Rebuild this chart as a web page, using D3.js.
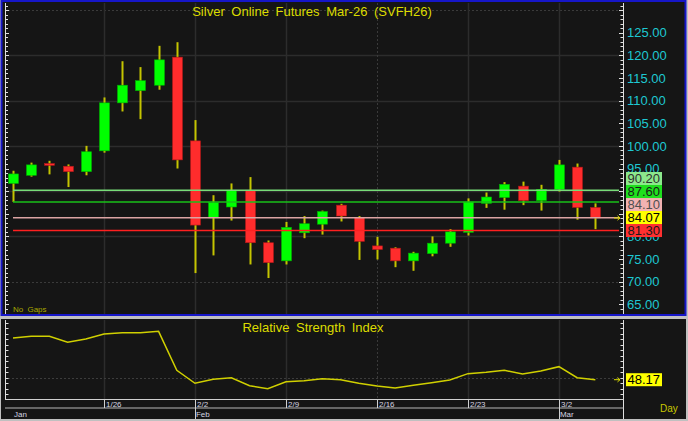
<!DOCTYPE html>
<html><head><meta charset="utf-8">
<script src="https://cdn.jsdelivr.net/npm/d3@7"></script>
<style>
html,body{margin:0;padding:0;background:#c0c0c0;}
svg{display:block;font-family:"Liberation Sans",Arial,sans-serif;}
</style></head>
<body>
<svg id="chart" width="688" height="421"></svg>
<script>
// ---------- DATA ----------
const dates = ["1/19","1/20","1/21","1/22","1/23","1/26","1/27","1/28","1/29","1/30",
  "2/2","2/3","2/4","2/5","2/6","2/9","2/10","2/11","2/12","2/13",
  "2/16","2/17","2/18","2/19","2/20","2/23","2/24","2/25","2/26","2/27",
  "3/2","3/3","3/4"];
const openVals  = [91.7,93.5,96.1,95.5,94.3,98.9,109.5,112.2,113.4,119.6,
  101.1,84.1,86.5,90.2,78.6,74.6,80.8,82.7,86.9,84.2,
  77.9,77.4,74.6,76.2,78.5,80.9,87.3,88.6,91.1,87.9,
  90.4,95.3,86.4];
const highVals  = [94.5,96.3,96.7,95.9,100.0,110.7,118.7,117.4,122.1,122.9,
  105.7,89.1,91.7,93.1,79.1,83.2,84.5,85.7,87.2,84.5,
  79.9,77.6,76.6,80.0,81.6,88.4,89.7,92.0,92.1,91.4,
  96.9,96.1,87.3];
const lowVals   = [87.6,93.2,93.7,90.9,93.5,98.5,107.6,105.9,112.4,95.0,
  71.9,75.8,83.5,73.8,70.8,73.8,79.6,80.4,83.3,74.8,
  74.9,73.2,72.4,75.6,77.7,80.2,86.3,85.9,86.9,85.7,
  89.9,83.7,81.6];
const closeVals = [93.8,95.8,95.7,94.3,98.7,109.5,113.4,114.4,119.0,96.9,
  82.5,87.5,90.2,78.6,74.2,82.0,82.8,85.5,84.5,78.9,
  77.1,74.6,76.3,78.5,81.0,87.6,88.7,91.5,87.9,90.4,
  95.8,86.4,84.07];
const rsiVals = [86.3,87.8,87.8,82.4,85.4,89.9,91.1,91.1,92.4,56.8,
  44.9,48.5,50.0,42.7,39.9,46.3,47.3,49.1,48.2,44.9,
  42.4,40.6,43.1,45.4,47.9,53.7,54.9,56.8,53.4,56.1,
  60.1,50.0,48.17];
const priceTicks = [65,70,75,80,85,90,95,100,105,110,115,120,125];
const weekTicks = ["1/26","2/2","2/9","2/16","2/23","3/2"];
const monthStarts = ["1/19","2/2","3/2"];
const monthNames = ["Jan","Feb","Mar"];
const levelValues = [90.20, 87.60, 84.10, 81.30];
const lastPrice = 84.07;
const lastRsi = 48.17;
const titleText = "Silver Online Futures Mar-26 (SVFH26)";
const rsiTitle = "Relative Strength Index";

// ---------- STYLES ----------
const levelLine = ["#78dc78","#18c018","#dca4a4","#ff2020"];
const levelBox  = ["#8ce88c","#1ee01e","#f2b2b2","#ff3030"];
const levelText = ["#303030","#1a1a1a","#505050","#1a1a1a"];
const BG = "#151515", GRID = "#2c2c2c", AXIS = "#e0e0e0", YEL = "#dcdc00", CYAN = "#1ec8d2";

const svg = d3.select("#chart");
const n = dates.length;
const idx = d3.range(n);

// scales
const x = d3.scaleLinear().domain([-0.275, 33.52]).range([8, 623]);
const y = d3.scaleLinear().domain([65, 125]).range([304.3, 32.7]);
const yr = d3.scaleLinear().domain([50, 100]).range([377.7, 323.0]);
const di = d => dates.indexOf(d);

// outer + panels
svg.append("rect").attr("x",0).attr("y",0).attr("width",688).attr("height",421).attr("fill","#c0c0c0");
svg.append("rect").attr("x",1.5).attr("y",1).attr("width",684).attr("height",314)
  .attr("fill",BG).attr("stroke","#1616c8").attr("stroke-width",2);
svg.append("rect").attr("x",1).attr("y",319).attr("width",685).attr("height",100).attr("fill",BG);

// ---------- MAIN PANEL ----------
const main = svg.append("g");
[70,80,90,100,110,120,130].forEach(v=>{
  const dotted = (v===70||v===130);
  main.append("line").attr("x1",8).attr("x2",623).attr("y1",Math.round(y(v))+0.5).attr("y2",Math.round(y(v))+0.5)
    .attr("stroke", dotted?"#3a3a3a":GRID).attr("stroke-width",dotted?1:1.5)
    .attr("stroke-dasharray", dotted?"2,2":null);
});
weekTicks.forEach(d=>{
  const xx = Math.round(x(di(d)))+0.5;
  const dotted = d==="2/16";
  main.append("line").attr("x1",xx).attr("x2",xx).attr("y1",3).attr("y2",314)
    .attr("stroke", dotted?"#3a3a3a":GRID).attr("stroke-width",dotted?1:1.5)
    .attr("stroke-dasharray", dotted?"2,2":null);
});

main.append("text").attr("x",312).attr("y",16).attr("text-anchor","middle")
  .attr("font-size",13).attr("word-spacing",3).attr("fill",YEL).text(titleText);

main.append("line").attr("x1",5.5).attr("x2",5.5).attr("y1",3).attr("y2",314).attr("stroke",AXIS);
main.append("line").attr("x1",623.5).attr("x2",623.5).attr("y1",3).attr("y2",314).attr("stroke",AXIS);
d3.range(63,132).forEach(v=>{
  const yy = Math.round(y(v))+0.5;
  if (yy<4||yy>313) return;
  const major = v%5===0;
  main.append("line").attr("x1",5.5).attr("x2",major?9:8).attr("y1",yy).attr("y2",yy).attr("stroke",AXIS);
  main.append("line").attr("x1",623.5).attr("x2",major?619:620.5).attr("y1",yy).attr("y2",yy).attr("stroke",AXIS);
});

// candles
const cg = main.append("g");
cg.selectAll("line.wick").data(idx).join("line").attr("class","wick")
  .attr("x1",i=>Math.round(x(i))+0.5).attr("x2",i=>Math.round(x(i))+0.5)
  .attr("y1",i=>y(highVals[i])).attr("y2",i=>y(lowVals[i]))
  .attr("stroke","#c4c400").attr("stroke-width",2);
cg.selectAll("rect.body").data(idx).join("rect").attr("class","body")
  .attr("x",i=>Math.round(x(i))-4.5).attr("width",10)
  .attr("y",i=>y(Math.max(openVals[i],closeVals[i])))
  .attr("height",i=>Math.max(1.5, Math.abs(y(openVals[i])-y(closeVals[i]))))
  .attr("fill",i=>closeVals[i]>=openVals[i]?"#00ff00":"#ff2c2c")
  .attr("stroke",i=>closeVals[i]>=openVals[i]?"#00b000":"#b01818").attr("stroke-width",0.6);

levelValues.forEach((v,k)=>{
  main.append("line").attr("x1",x(0)).attr("x2",619).attr("y1",y(v)).attr("y2",y(v))
    .attr("stroke",levelLine[k]).attr("stroke-width",1.5);
});

function arrow(g, yy){
  g.append("path").attr("d",`M614,${yy} H620 M617.5,${yy-2.2} L620,${yy} L617.5,${yy+2.2}`)
    .attr("stroke",YEL).attr("stroke-width",1).attr("fill","none");
}
arrow(main, y(lastPrice));

// stacked value boxes (positions resolved first)
const boxes = levelValues.map((v,k)=>({v, bg:levelBox[k], fg:levelText[k]}));
boxes.push({v:lastPrice, bg:"#ffff00", fg:"#000"});
boxes.sort((a,b)=>a.v-b.v);
const BH = 13;
let prev = Infinity;
boxes.forEach(b=>{
  let c = y(b.v);
  if (c > prev - BH) c = prev - BH;
  b.c = c; prev = c;
});
const boxTop = d3.min(boxes, b=>b.c-BH/2), boxBot = d3.max(boxes, b=>b.c+BH/2);

// axis labels (those fully hidden under the value boxes are not drawn)
priceTicks.forEach(v=>{
  const c = y(v);
  if (c-5 >= boxTop && c+5 <= boxBot) return;
  main.append("text").attr("x",627).attr("y",c+4.7).attr("font-size",13).attr("fill",CYAN)
    .text(v.toFixed(2));
});

boxes.forEach(b=>{
  main.append("rect").attr("x",626).attr("y",b.c-BH/2).attr("width",36).attr("height",BH).attr("fill",b.bg);
  main.append("text").attr("x",627.5).attr("y",b.c+4.7).attr("font-size",13).attr("fill",b.fg).text(b.v.toFixed(2));
});

main.append("text").attr("x",13).attr("y",312).attr("font-size",8).attr("word-spacing",2).attr("fill","#a8a800").text("No Gaps");

// ---------- RSI PANEL ----------
const rp = svg.append("g");
weekTicks.forEach(d=>{
  const xx = Math.round(x(di(d)))+0.5;
  const dotted = d==="2/16";
  rp.append("line").attr("x1",xx).attr("x2",xx).attr("y1",320).attr("y2",399)
    .attr("stroke", dotted?"#3a3a3a":GRID).attr("stroke-width",dotted?1:1.5)
    .attr("stroke-dasharray", dotted?"2,2":null);
});
rp.append("line").attr("x1",8).attr("x2",623).attr("y1",Math.round(yr(50))+0.5).attr("y2",Math.round(yr(50))+0.5)
  .attr("stroke","#3c3c3c").attr("stroke-dasharray","2,2");
rp.append("text").attr("x",313).attr("y",332).attr("text-anchor","middle")
  .attr("font-size",13).attr("word-spacing",3).attr("fill",YEL).text(rsiTitle);
rp.append("line").attr("x1",5.5).attr("x2",5.5).attr("y1",320).attr("y2",399).attr("stroke",AXIS);
rp.append("line").attr("x1",623.5).attr("x2",623.5).attr("y1",320).attr("y2",419).attr("stroke",AXIS);
d3.range(35,105,5).forEach(v=>{
  const yy = Math.round(yr(v))+0.5;
  rp.append("line").attr("x1",5.5).attr("x2",8.5).attr("y1",yy).attr("y2",yy).attr("stroke",AXIS);
  rp.append("line").attr("x1",623.5).attr("x2",620.5).attr("y1",yy).attr("y2",yy).attr("stroke",AXIS);
});
const line = d3.line().x(i=>x(i)).y(i=>yr(rsiVals[i]));
rp.append("path").attr("d",line(idx)).attr("fill","none").attr("stroke","#d0d000").attr("stroke-width",1.5);
arrow(rp, yr(lastRsi));
rp.append("rect").attr("x",626).attr("y",yr(lastRsi)-6.5).attr("width",36).attr("height",13).attr("fill","#ffff00");
rp.append("text").attr("x",627.5).attr("y",yr(lastRsi)+4.7).attr("font-size",13).attr("fill","#000").text(lastRsi.toFixed(2));

// ---------- DATE AXIS ----------
const da = svg.append("g");
da.append("line").attr("x1",5).attr("x2",623.5).attr("y1",399.5).attr("y2",399.5).attr("stroke","#d0d0d0");
da.append("line").attr("x1",5).attr("x2",623.5).attr("y1",408).attr("y2",408).attr("stroke","#b8b8b8");
weekTicks.forEach(d=>{
  const xx = Math.round(x(di(d)))+0.5;
  const isMonth = monthStarts.includes(d);
  da.append("line").attr("x1",xx).attr("x2",xx).attr("y1",399.5).attr("y2",isMonth?419:408).attr("stroke","#d0d0d0");
  da.append("text").attr("x",xx+1.5).attr("y",407).attr("font-size",8).attr("fill","#d4d4e0").text(d);
});
monthStarts.forEach((d,k)=>{
  da.append("text").attr("x",x(di(d))+1).attr("y",417).attr("font-size",8).attr("fill","#d4d4e0").text(monthNames[k]);
});
da.append("text").attr("x",660).attr("y",412).attr("font-size",10).attr("fill","#c8c800").text("Day");
</script>
</body></html>
